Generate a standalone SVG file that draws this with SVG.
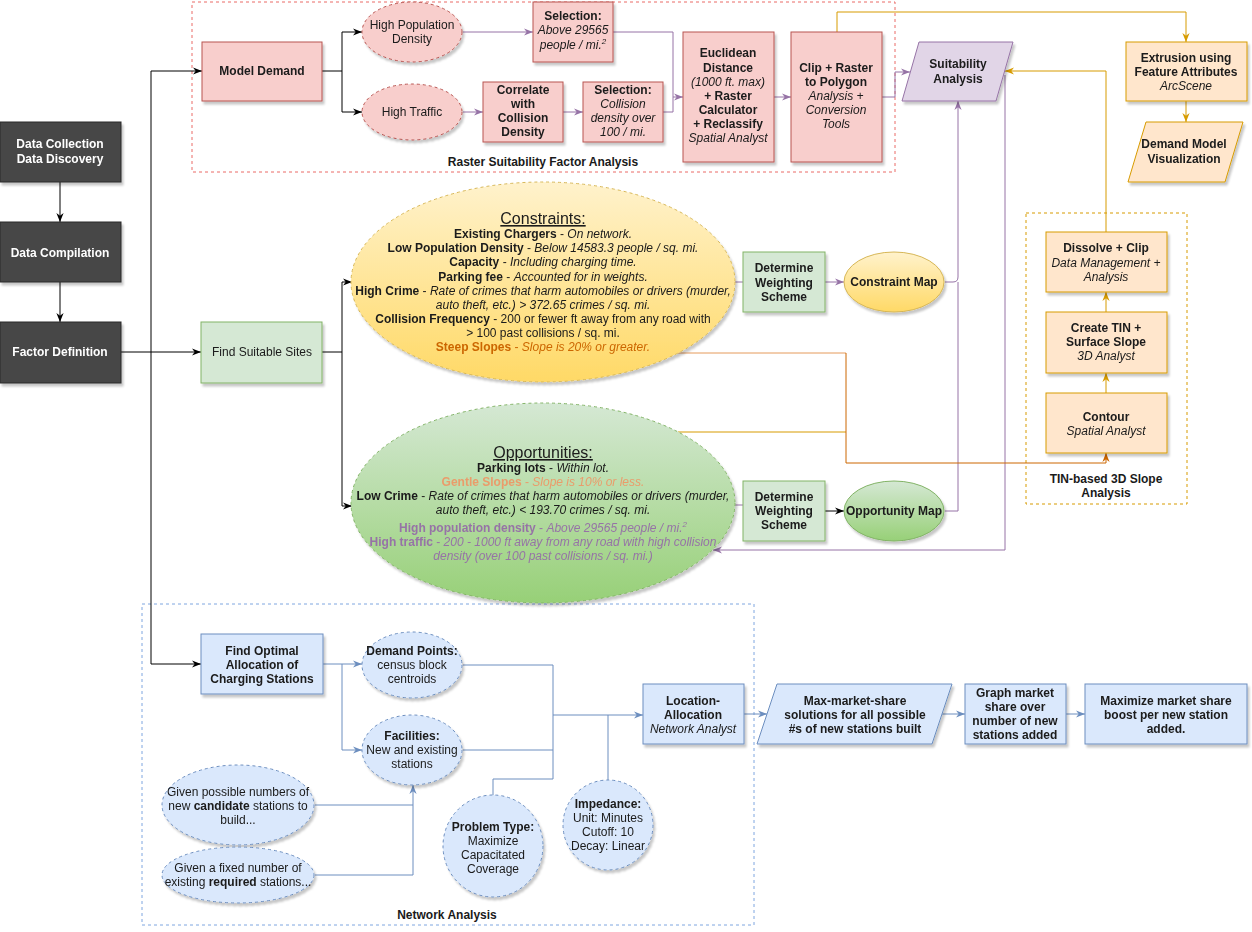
<svg xmlns="http://www.w3.org/2000/svg" width="1252" height="932" viewBox="0 0 1252 932">
<style>
text{font-family:"Liberation Sans",Arial,sans-serif;font-size:12px;fill:#1a1a1a;text-anchor:middle}
.b{font-weight:bold}
.i{font-style:italic}
.h{font-size:16px;text-decoration:underline}
.sup{font-size:8px}
.w{fill:#ffffff;font-weight:bold}
.dark{fill:#474747;stroke:#2b2b2b;stroke-width:1}
.red{fill:#f8cecc;stroke:#b85450;stroke-width:1}
.redd{fill:#f8cecc;stroke:#b85450;stroke-width:1;stroke-dasharray:3 3}
.grn{fill:#d5e8d4;stroke:#82b366;stroke-width:1}
.org{fill:#ffe6cc;stroke:#d79b00;stroke-width:1}
.pur{fill:#e1d5e7;stroke:#9673a6;stroke-width:1}
.blu{fill:#dae8fc;stroke:#6c8ebf;stroke-width:1}
.blud{fill:#dae8fc;stroke:#6c8ebf;stroke-width:1;stroke-dasharray:3 3}
.e{fill:none;stroke-width:1}
.ek{stroke:#000000}
.ep{stroke:#9673a6}
.eo{stroke:#d79b00}
.eb{stroke:#6c8ebf}
.sh{filter:url(#shadow)}
</style>
<defs>
<filter id="shadow" x="-20%" y="-20%" width="140%" height="140%">
<feDropShadow dx="2" dy="3" stdDeviation="1.2" flood-color="#000" flood-opacity="0.22"/>
</filter>
<linearGradient id="gY" x1="0" y1="0" x2="0" y2="1"><stop offset="0" stop-color="#fff2cc"/><stop offset="1" stop-color="#ffd966"/></linearGradient>
<linearGradient id="gG" x1="0" y1="0" x2="0" y2="1"><stop offset="0" stop-color="#d5e8d4"/><stop offset="1" stop-color="#97d077"/></linearGradient>
<marker id="ak" viewBox="0 0 10 10" refX="10" refY="5" markerWidth="9" markerHeight="9" markerUnits="userSpaceOnUse" orient="auto"><path d="M0,1 L10,5 L0,9 L3,5 z" fill="#000"/></marker>
<marker id="ap" viewBox="0 0 10 10" refX="10" refY="5" markerWidth="9" markerHeight="9" markerUnits="userSpaceOnUse" orient="auto"><path d="M0,1 L10,5 L0,9 L3,5 z" fill="#9673a6"/></marker>
<marker id="ao" viewBox="0 0 10 10" refX="10" refY="5" markerWidth="9" markerHeight="9" markerUnits="userSpaceOnUse" orient="auto"><path d="M0,1 L10,5 L0,9 L3,5 z" fill="#d79b00"/></marker>
<marker id="ad" viewBox="0 0 10 10" refX="10" refY="5" markerWidth="9" markerHeight="9" markerUnits="userSpaceOnUse" orient="auto"><path d="M0,1 L10,5 L0,9 L3,5 z" fill="#cc6600"/></marker>
<marker id="ab" viewBox="0 0 10 10" refX="10" refY="5" markerWidth="9" markerHeight="9" markerUnits="userSpaceOnUse" orient="auto"><path d="M0,1 L10,5 L0,9 L3,5 z" fill="#6c8ebf"/></marker>
</defs>
<rect width="1252" height="932" fill="#ffffff"/>

<!-- containers -->
<g id="raster-container">
<rect x="192" y="2" width="703" height="170" fill="none" stroke="#ea6b66" stroke-dasharray="3 3"/>
<text class="b" x="543" y="166">Raster Suitability Factor Analysis</text>
</g>
<g id="tin-container">
<rect x="1026" y="213" width="161" height="291" fill="none" stroke="#d79b00" stroke-dasharray="3 3"/>
<text class="b" x="1106" y="483">TIN-based 3D Slope</text>
<text class="b" x="1106" y="497">Analysis</text>
</g>
<g id="network-container">
<rect x="142" y="604" width="612" height="321" fill="none" stroke="#7ea6e0" stroke-dasharray="3 3"/>
<text class="b" x="447" y="919">Network Analysis</text>
</g>

<!-- connectors -->
<g id="connectors">
<path class="e ek" d="M60,182 V222" marker-end="url(#ak)"/>
<path class="e ek" d="M60,282 V322" marker-end="url(#ak)"/>
<path class="e ek" d="M121,352 H201" marker-end="url(#ak)"/>
<path class="e ek" d="M151,352 V71 H202" marker-end="url(#ak)"/>
<path class="e ek" d="M151,352 V664 H201" marker-end="url(#ak)"/>
<path class="e ek" d="M322,71 H342 V32 H362" marker-end="url(#ak)"/>
<path class="e ek" d="M342,71 V112 H362" marker-end="url(#ak)"/>
<path class="e ek" d="M322,352 H342 V282 H352" marker-end="url(#ak)"/>
<path class="e ek" d="M342,352 V506 H352" marker-end="url(#ak)"/>
<path class="e ek" d="M825,511 H844" stroke-width="2" marker-end="url(#ak)"/>

<path class="e ep" d="M463,32 H533" marker-end="url(#ap)"/>
<path class="e ep" d="M463,112 H483" marker-end="url(#ap)"/>
<path class="e ep" d="M563,112 H583" marker-end="url(#ap)"/>
<path class="e ep" d="M613,32 H673 V97 H683" marker-end="url(#ap)"/>
<path class="e ep" d="M663,112 H673 V97"/>
<path class="e ep" d="M774,97 H791" marker-end="url(#ap)"/>
<path class="e ep" d="M882,97 H895 V72 H910" marker-end="url(#ap)"/>
<path class="e ep" d="M735,282 H743"/>
<path class="e ep" d="M825,282 H844" marker-end="url(#ap)"/>
<path class="e ep" d="M945,282 H953 Q958,282 958,277 V101" marker-end="url(#ap)"/>
<path class="e ep" d="M945,511 H958 V282"/>
<path class="e ep" d="M735,505 H743"/>
<path class="e ep" d="M1005,75 V550 H713" marker-end="url(#ap)"/>

<path class="e eo" d="M837,32 V12 H1186 V42" marker-end="url(#ao)"/>
<path class="e eo" d="M1186,101 V122" marker-end="url(#ao)"/>
<path class="e eo" d="M1106,393 V373" marker-end="url(#ao)"/>
<path class="e eo" d="M1106,312 V292" marker-end="url(#ao)"/>
<path class="e eo" d="M1106,232 V71 H1005" marker-end="url(#ao)"/>
<path class="e eo" d="M678,432 H846"/>
<path class="e" stroke="#e59a5a" d="M678,353 H846"/>
<path class="e" stroke="#cc6600" d="M846,353 V463 H1106 V453" marker-end="url(#ad)"/>

<path class="e eb" d="M323,664 H342 V750 H362" marker-end="url(#ab)"/>
<path class="e eb" d="M342,664 H362" marker-end="url(#ab)"/>
<path class="e eb" d="M315,805 H413 V785" marker-end="url(#ab)"/>
<path class="e eb" d="M315,875 H413 V805"/>
<path class="e eb" d="M463,665 H553 V779"/>
<path class="e eb" d="M463,750 H553"/>
<path class="e eb" d="M493,796 V779 H553"/>
<path class="e eb" d="M553,715 H643" marker-end="url(#ab)"/>
<path class="e eb" d="M608,780 V715"/>
<path class="e eb" d="M744,714 H767" marker-end="url(#ab)"/>
<path class="e eb" d="M942,714 H965" marker-end="url(#ab)"/>
<path class="e eb" d="M1066,714 H1085" marker-end="url(#ab)"/>
</g>

<!-- left column -->
<g id="data-collection" class="sh">
<rect class="dark" x="0" y="122" width="121" height="60"/>
<text class="w" x="60" y="148">Data Collection</text>
<text class="w" x="60" y="163">Data Discovery</text>
</g>
<g id="data-compilation" class="sh">
<rect class="dark" x="0" y="222" width="121" height="60"/>
<text class="w" x="60" y="257">Data Compilation</text>
</g>
<g id="factor-definition" class="sh">
<rect class="dark" x="0" y="322" width="121" height="61"/>
<text class="w" x="60" y="356">Factor Definition</text>
</g>

<!-- raster section -->
<g id="model-demand" class="sh">
<rect class="red" x="202" y="42" width="120" height="59"/>
<text class="b" x="262" y="75">Model Demand</text>
</g>
<g id="high-pop" class="sh">
<ellipse class="redd" cx="412" cy="32" rx="50" ry="30"/>
<text x="412" y="29">High Population</text>
<text x="412" y="43">Density</text>
</g>
<g id="high-traffic" class="sh">
<ellipse class="redd" cx="412" cy="112" rx="50" ry="28"/>
<text x="412" y="116">High Traffic</text>
</g>
<g id="selection1" class="sh">
<rect class="red" x="533" y="2" width="80" height="60"/>
<text class="b" x="573" y="20">Selection:</text>
<text class="i" x="573" y="34">Above 29565</text>
<text class="i" x="573" y="49">people / mi.<tspan class="sup" dy="-5">2</tspan></text>
</g>
<g id="correlate" class="sh">
<rect class="red" x="483" y="82" width="80" height="60"/>
<text class="b" x="523" y="94">Correlate</text>
<text class="b" x="523" y="108">with</text>
<text class="b" x="523" y="122">Collision</text>
<text class="b" x="523" y="136">Density</text>
</g>
<g id="selection2" class="sh">
<rect class="red" x="583" y="82" width="80" height="60"/>
<text class="b" x="623" y="94">Selection:</text>
<text class="i" x="623" y="108">Collision</text>
<text class="i" x="623" y="122">density over</text>
<text class="i" x="623" y="136">100 / mi.</text>
</g>
<g id="euclidean" class="sh">
<rect class="red" x="683" y="32" width="91" height="130"/>
<text class="b" x="728" y="57">Euclidean</text>
<text class="b" x="728" y="72">Distance</text>
<text class="i" x="728" y="86">(1000 ft. max)</text>
<text class="b" x="728" y="100">+ Raster</text>
<text class="b" x="728" y="114">Calculator</text>
<text class="b" x="728" y="128">+ Reclassify</text>
<text class="i" x="728" y="142">Spatial Analyst</text>
</g>
<g id="clip-raster" class="sh">
<rect class="red" x="791" y="32" width="91" height="130"/>
<text class="b" x="836" y="72">Clip + Raster</text>
<text class="b" x="836" y="86">to Polygon</text>
<text class="i" x="836" y="100">Analysis +</text>
<text class="i" x="836" y="114">Conversion</text>
<text class="i" x="836" y="128">Tools</text>
</g>
<g id="suitability" class="sh">
<path class="pur" d="M919,42 H1013 L996,101 H902 Z" stroke-linejoin="round"/>
<text class="b" x="958" y="68">Suitability</text>
<text class="b" x="958" y="83">Analysis</text>
</g>
<g id="extrusion" class="sh">
<rect class="org" x="1126" y="42" width="121" height="59"/>
<text class="b" x="1186" y="62">Extrusion using</text>
<text class="b" x="1186" y="76">Feature Attributes</text>
<text class="i" x="1186" y="90">ArcScene</text>
</g>
<g id="demand-viz" class="sh">
<path class="org" d="M1146,122 H1243 L1225,182 H1128 Z" stroke-linejoin="round"/>
<text class="b" x="1184" y="148">Demand Model</text>
<text class="b" x="1184" y="163">Visualization</text>
</g>

<!-- suitable sites -->
<g id="find-suitable" class="sh">
<rect class="grn" x="201" y="322" width="121" height="61"/>
<text x="262" y="356">Find Suitable Sites</text>
</g>
<g id="constraints" class="sh">
<ellipse cx="543" cy="282" rx="192" ry="100" fill="url(#gY)" stroke="#d6b656" stroke-dasharray="3 3"/>
<text class="h" x="543" y="224">Constraints:</text>
<text x="543" y="238"><tspan class="b">Existing Chargers</tspan> - <tspan class="i">On network.</tspan></text>
<text x="543" y="252"><tspan class="b">Low Population Density</tspan> - <tspan class="i">Below 14583.3 people / sq. mi.</tspan></text>
<text x="543" y="266"><tspan class="b">Capacity</tspan> - <tspan class="i">Including charging time.</tspan></text>
<text x="543" y="281"><tspan class="b">Parking fee</tspan> - <tspan class="i">Accounted for in weights.</tspan></text>
<text x="543" y="295"><tspan class="b">High Crime</tspan> - <tspan class="i">Rate of crimes that harm automobiles or drivers (murder,</tspan></text>
<text x="543" y="309" class="i">auto theft, etc.) &gt; 372.65 crimes / sq. mi.</text>
<text x="543" y="323"><tspan class="b">Collision Frequency</tspan> - 200 or fewer ft away from any road with</text>
<text x="543" y="337">&gt; 100 past collisions / sq. mi.</text>
<text x="543" y="351" style="fill:#cc6600"><tspan class="b">Steep Slopes</tspan> - <tspan class="i">Slope is 20% or greater.</tspan></text>
</g>
<g id="opportunities" class="sh">
<ellipse cx="543" cy="503" rx="192" ry="100" fill="url(#gG)" stroke="#82b366" stroke-dasharray="3 3"/>
<text class="h" x="543" y="458">Opportunities:</text>
<text x="543" y="472"><tspan class="b">Parking lots</tspan> - <tspan class="i">Within lot.</tspan></text>
<text x="543" y="486" style="fill:#ea9c6b"><tspan class="b">Gentle Slopes</tspan> - <tspan class="i">Slope is 10% or less.</tspan></text>
<text x="543" y="500"><tspan class="b">Low Crime</tspan> - <tspan class="i">Rate of crimes that harm automobiles or drivers (murder,</tspan></text>
<text x="543" y="514" class="i">auto theft, etc.) &lt; 193.70 crimes / sq. mi.</text>
<text x="543" y="532" style="fill:#9673a6"><tspan class="b">High population density</tspan> - <tspan class="i">Above 29565 people / mi.</tspan><tspan class="i sup" dy="-5">2</tspan></text>
<text x="543" y="546" style="fill:#9673a6"><tspan class="b">High traffic</tspan> - <tspan class="i">200 - 1000 ft away from any road with high collision</tspan></text>
<text x="543" y="560" class="i" style="fill:#9673a6">density (over 100 past collisions / sq. mi.)</text>
</g>
<g id="weighting-c" class="sh">
<rect class="grn" x="743" y="252" width="82" height="60"/>
<text class="b" x="784" y="272">Determine</text>
<text class="b" x="784" y="287">Weighting</text>
<text class="b" x="784" y="301">Scheme</text>
</g>
<g id="constraint-map" class="sh">
<ellipse cx="894" cy="282" rx="50" ry="30" fill="url(#gY)" stroke="#d6b656"/>
<text class="b" x="894" y="286">Constraint Map</text>
</g>
<g id="weighting-o" class="sh">
<rect class="grn" x="743" y="481" width="82" height="60"/>
<text class="b" x="784" y="501">Determine</text>
<text class="b" x="784" y="515">Weighting</text>
<text class="b" x="784" y="529">Scheme</text>
</g>
<g id="opportunity-map" class="sh">
<ellipse cx="894" cy="511" rx="50" ry="30" fill="url(#gG)" stroke="#82b366"/>
<text class="b" x="894" y="515">Opportunity Map</text>
</g>

<!-- TIN -->
<g id="dissolve" class="sh">
<rect class="org" x="1046" y="232" width="121" height="60"/>
<text class="b" x="1106" y="252">Dissolve + Clip</text>
<text class="i" x="1106" y="267">Data Management +</text>
<text class="i" x="1106" y="281">Analysis</text>
</g>
<g id="create-tin" class="sh">
<rect class="org" x="1046" y="312" width="121" height="61"/>
<text class="b" x="1106" y="332">Create TIN +</text>
<text class="b" x="1106" y="346">Surface Slope</text>
<text class="i" x="1106" y="360">3D Analyst</text>
</g>
<g id="contour" class="sh">
<rect class="org" x="1046" y="393" width="121" height="60"/>
<text class="b" x="1106" y="421">Contour</text>
<text class="i" x="1106" y="435">Spatial Analyst</text>
</g>

<!-- network -->
<g id="find-optimal" class="sh">
<rect class="blu" x="201" y="634" width="122" height="60"/>
<text class="b" x="262" y="655">Find Optimal</text>
<text class="b" x="262" y="669">Allocation of</text>
<text class="b" x="262" y="683">Charging Stations</text>
</g>
<g id="demand-points" class="sh">
<ellipse class="blud" cx="412" cy="665" rx="50" ry="33"/>
<text class="b" x="412" y="655">Demand Points:</text>
<text x="412" y="669">census block</text>
<text x="412" y="683">centroids</text>
</g>
<g id="facilities" class="sh">
<ellipse class="blud" cx="412" cy="750" rx="50" ry="35"/>
<text class="b" x="412" y="740">Facilities:</text>
<text x="412" y="754">New and existing</text>
<text x="412" y="768">stations</text>
</g>
<g id="given-possible" class="sh">
<ellipse class="blud" cx="238" cy="805" rx="76" ry="40"/>
<text x="238" y="796">Given possible numbers of</text>
<text x="238" y="810">new <tspan class="b">candidate</tspan> stations to</text>
<text x="238" y="824">build...</text>
</g>
<g id="given-fixed" class="sh">
<ellipse class="blud" cx="238" cy="875" rx="76" ry="28"/>
<text x="238" y="872">Given a fixed number of</text>
<text x="238" y="886">existing <tspan class="b">required</tspan> stations...</text>
</g>
<g id="problem-type" class="sh">
<ellipse class="blud" cx="493" cy="846" rx="50" ry="51"/>
<text class="b" x="493" y="831">Problem Type:</text>
<text x="493" y="845">Maximize</text>
<text x="493" y="859">Capacitated</text>
<text x="493" y="873">Coverage</text>
</g>
<g id="impedance" class="sh">
<ellipse class="blud" cx="608" cy="825" rx="45" ry="45"/>
<text class="b" x="608" y="808">Impedance:</text>
<text x="608" y="822">Unit: Minutes</text>
<text x="608" y="836">Cutoff: 10</text>
<text x="608" y="850">Decay: Linear</text>
</g>
<g id="location-allocation" class="sh">
<rect class="blu" x="643" y="684" width="101" height="60"/>
<text class="b" x="693" y="705">Location-</text>
<text class="b" x="693" y="719">Allocation</text>
<text class="i" x="693" y="733">Network Analyst</text>
</g>
<g id="max-market" class="sh">
<path class="blu" d="M777,684 H952 L932,744 H757 Z" stroke-linejoin="round"/>
<text class="b" x="855" y="705">Max-market-share</text>
<text class="b" x="855" y="719">solutions for all possible</text>
<text class="b" x="855" y="733">#s of new stations built</text>
</g>
<g id="graph-market" class="sh">
<rect class="blu" x="965" y="684" width="101" height="60"/>
<text class="b" x="1015" y="697">Graph market</text>
<text class="b" x="1015" y="711">share over</text>
<text class="b" x="1015" y="725">number of new</text>
<text class="b" x="1015" y="739">stations added</text>
</g>
<g id="maximize" class="sh">
<rect class="blu" x="1085" y="684" width="162" height="60"/>
<text class="b" x="1166" y="705">Maximize market share</text>
<text class="b" x="1166" y="719">boost per new station</text>
<text class="b" x="1166" y="733">added.</text>
</g>
</svg>
